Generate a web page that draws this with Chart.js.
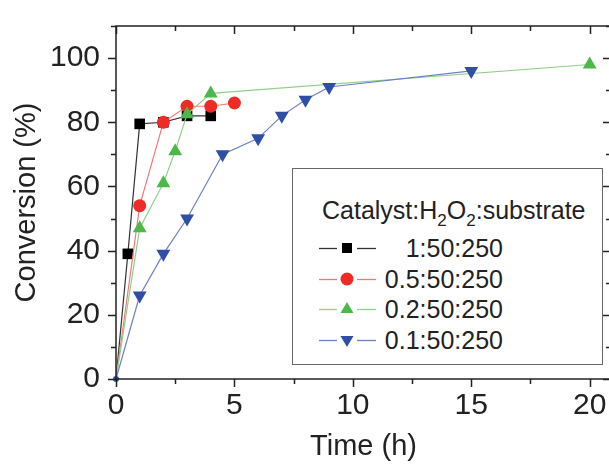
<!DOCTYPE html>
<html>
<head>
<meta charset="utf-8">
<script src="https://cdn.jsdelivr.net/npm/chart.js@4"></script>
<style>
  html, body { margin: 0; padding: 0; background: #fff; overflow: hidden; }
  #wrap { position: relative; width: 620px; height: 464px; }
  #legend {
    position: absolute; left: 292px; top: 168px; width: 311px; height: 197px;
    box-sizing: border-box; border: 1.5px solid #666; background: #fff;
    font-family: "Liberation Sans", Arial, sans-serif; font-size: 25px; color: #222;
  }
  #legend .title { position: absolute; left: 29px; top: 27px; white-space: nowrap; }
  #legend sub { font-size: 17px; vertical-align: -7px; line-height: 0; }
  #legend .row { position: absolute; left: 26px; width: 184px; height: 30px; }
  #legend .row svg { position: absolute; left: 0; top: 0; }
  #legend .row span { position: absolute; right: 0; top: 1px; }
</style>
</head>
<body>
<div id="wrap">
  <canvas id="chart" width="620" height="464"></canvas>
  <div id="legend"><div class="title">Catalyst:H<sub>2</sub>O<sub>2</sub>:substrate</div></div>
</div>
<script>
// Catalyst:H2O2:substrate ratios
const seriesLabels = ['1:50:250', '0.5:50:250', '0.2:50:250', '0.1:50:250'];

const timeA = [0, 0.5, 1, 2, 3, 4];
const convA = [0, 39, 79.5, 80, 82, 82];

const timeB = [0, 1, 2, 3, 4, 5];
const convB = [0, 54, 80, 85, 85, 86];

const timeC = [0, 1, 2, 2.5, 3, 4, 20];
const convC = [0, 47, 61, 71, 82.5, 89, 98];

const timeD = [0, 1, 2, 3, 4.5, 6, 7, 8, 9, 15];
const convD = [0, 26, 39, 50, 70, 75, 82, 87, 91, 96];

const xTicks = [0, 5, 10, 15, 20];
const yTicks = [0, 20, 40, 60, 80, 100];

const styles = [
  { line: '#333333', fill: '#000000', shape: 'rect', r: 7.5, rot: 0 },
  { line: '#f07a7a', fill: '#ee2b24', shape: 'circle', r: 6.5, rot: 0 },
  { line: '#8fd08a', fill: '#4cb847', shape: 'triangle', r: 8, rot: 0 },
  { line: '#6f80c4', fill: '#2f4ea6', shape: 'triangle', r: 8, rot: 180 },
];

const pts = (xs, ys) => xs.map((x, i) => ({ x, y: ys[i] }));
const allData = [pts(timeA, convA), pts(timeB, convB), pts(timeC, convC), pts(timeD, convD)];

const datasets = allData.map((data, i) => {
  const s = styles[i];
  return {
    label: seriesLabels[i],
    data,
    borderColor: s.line,
    borderWidth: 1.2,
    backgroundColor: s.fill,
    pointBackgroundColor: s.fill,
    pointBorderColor: s.fill,
    pointBorderWidth: 0,
    pointStyle: ctx => (i === 3 && ctx.dataIndex === 0) ? 'circle' : s.shape,
    pointRadius: ctx => ctx.dataIndex === 0 ? (i === 3 ? 3 : 0) : s.r,
    pointRotation: s.rot,
    tension: 0,
    order: 4 - i,
    clip: false,
  };
});

const FONT = '"Liberation Sans", Arial, sans-serif';

const framePlugin = {
  id: 'frame',
  afterDraw(chart) {
    const { ctx, chartArea: a, scales: { x, y } } = chart;
    ctx.save();
    ctx.strokeStyle = '#222';
    ctx.lineWidth = 1.5;
    ctx.strokeRect(a.left, a.top, a.right - a.left, a.bottom - a.top);
    ctx.beginPath();
    for (let v = 0; v <= 20; v += 2.5) {
      const px = Math.round(x.getPixelForValue(v)) + 0.5;
      const len = xTicks.includes(v) ? 8 : 5;
      ctx.moveTo(px, a.bottom); ctx.lineTo(px, a.bottom + len);
      ctx.moveTo(px, a.top); ctx.lineTo(px, a.top + len);
    }
    for (let v = 0; v <= 110; v += 10) {
      const py = Math.round(y.getPixelForValue(v)) + 0.5;
      const len = yTicks.includes(v) ? 8 : 5;
      ctx.moveTo(a.left, py); ctx.lineTo(a.left - len, py);
      ctx.moveTo(a.right, py); ctx.lineTo(a.right - len, py);
    }
    ctx.stroke();
    ctx.restore();
  }
};

new Chart(document.getElementById('chart'), {
  type: 'line',
  data: { datasets },
  options: {
    responsive: false,
    animation: false,
    layout: { padding: { top: 15, right: 9, left: 0, bottom: 0 } },
    plugins: { legend: { display: false }, tooltip: { enabled: false } },
    scales: {
      x: {
        type: 'linear', min: 0, max: 20.9,
        grid: { display: false, drawTicks: true, tickLength: 8 },
        border: { display: false },
        ticks: { stepSize: 5, includeBounds: false, color: '#222', font: { family: FONT, size: 30 }, padding: 1, maxRotation: 0 },
        title: { display: true, text: 'Time (h)', color: '#222', font: { family: FONT, size: 29 }, padding: { top: 0, bottom: 0 } },
        afterFit: s => { s.height = 85; },
      },
      y: {
        type: 'linear', min: 0, max: 110,
        grid: { display: false, drawTicks: true, tickLength: 8 },
        border: { display: false },
        ticks: { stepSize: 20, includeBounds: false, color: '#222', font: { family: FONT, size: 30 }, padding: 8 },
        title: { display: true, text: 'Conversion (%)', color: '#222', font: { family: FONT, size: 29 }, padding: { top: 10, bottom: 0 } },
        afterFit: s => { s.width = 116; },
      },
    },
  },
  plugins: [framePlugin],
});

// legend rows built from the same series list
const legend = document.getElementById('legend');
const rowTops = [64, 95, 125, 156];
seriesLabels.forEach((label, i) => {
  const s = styles[i];
  let mark;
  if (s.shape === 'rect') mark = '<rect x="23" y="10" width="10" height="10" fill="' + s.fill + '"/>';
  else if (s.shape === 'circle') mark = '<circle cx="28" cy="15" r="6.5" fill="' + s.fill + '"/>';
  else if (s.rot === 0) mark = '<polygon points="28,8 34.5,19 21.5,19" fill="' + s.fill + '"/>';
  else mark = '<polygon points="28,22 34.5,11 21.5,11" fill="' + s.fill + '"/>';
  const row = document.createElement('div');
  row.className = 'row';
  row.style.top = rowTops[i] + 'px';
  row.innerHTML = '<svg width="60" height="30"><line x1="0" y1="15.5" x2="18" y2="15.5" stroke="' + s.line + '" stroke-width="1.3"/>' +
    '<line x1="38" y1="15.5" x2="57" y2="15.5" stroke="' + s.line + '" stroke-width="1.3"/>' + mark + '</svg><span>' + label + '</span>';
  legend.appendChild(row);
});
</script>
</body>
</html>
